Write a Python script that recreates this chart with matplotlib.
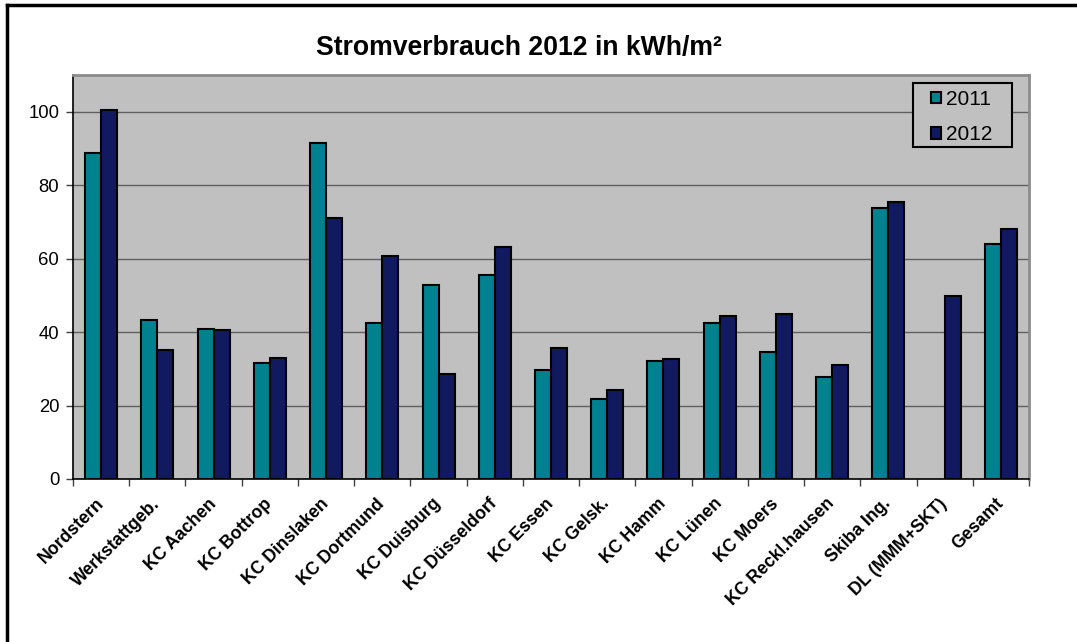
import numpy as np
import matplotlib.pyplot as plt
from matplotlib.lines import Line2D
from matplotlib.patches import Rectangle

plt.rcParams['font.family'] = ['Liberation Sans', 'DejaVu Sans']

# Data
standorte = ["Nordstern", "Werkstattgeb.", "KC Aachen", "KC Bottrop", "KC Dinslaken",
             "KC Dortmund", "KC Duisburg", "KC Düsseldorf", "KC Essen", "KC Gelsk.",
             "KC Hamm", "KC Lünen", "KC Moers", "KC Reckl.hausen", "Skiba Ing.",
             "DL (MMM+SKT)", "Gesamt"]
werte_2011 = [88.8, 43.3, 40.8, 31.5, 91.5, 42.4, 52.7, 55.6, 29.7, 21.8,
              32.2, 42.4, 34.5, 27.8, 73.8, np.nan, 64.0]
werte_2012 = [100.5, 35.1, 40.7, 33.0, 71.1, 60.6, 28.7, 63.1, 35.6, 24.1,
              32.7, 44.4, 45.0, 31.1, 75.5, 49.9, 68.1]
jahre = ["2011", "2012"]

col_2011 = "#00818F"
col_2012 = "#111A5E"

fig = plt.figure(figsize=(10.77, 6.42), dpi=100)
ax = fig.add_axes([0.0678, 0.2539, 0.8876, 0.6293])
ax.set_facecolor("#C0C0C0")

x = np.arange(len(standorte))
w = 0.285
ax.bar(x - w / 2, werte_2011, w, color=col_2011, edgecolor="black", linewidth=1.5,
       label=jahre[0], zorder=3)
ax.bar(x + w / 2, werte_2012, w, color=col_2012, edgecolor="black", linewidth=1.5,
       label=jahre[1], zorder=3)

ax.set_xlim(-0.5, len(standorte) - 0.5)
ax.set_ylim(0, 110)
ax.set_yticks([0, 20, 40, 60, 80, 100])
ax.yaxis.grid(True, color="#606060", linewidth=1, zorder=1)
ax.set_axisbelow(True)

ax.set_xticks(x)
ax.set_xticklabels(standorte, rotation=45, ha="right", va="center",
                   rotation_mode="anchor", fontsize=12.7, fontweight="bold")
ax.set_xticks(np.arange(len(standorte) + 1) - 0.5, minor=True)
ax.tick_params(axis="x", which="major", length=0, pad=16)
ax.tick_params(axis="x", which="minor", length=5, width=1, color="#404040")
ax.tick_params(axis="y", length=5, width=1, labelsize=13.3, pad=5, color="#404040")

for s in ["top", "right"]:
    ax.spines[s].set_color("#8C8C8C")
    ax.spines[s].set_linewidth(2)
for s in ["left", "bottom"]:
    ax.spines[s].set_color("black")
    ax.spines[s].set_linewidth(1.2)

# legend box drawn separately (wide side padding like the original)
ax.add_patch(Rectangle((0.8787, 0.8218), 0.1035, 0.1584, transform=ax.transAxes,
                       facecolor="#C0C0C0", edgecolor="black", linewidth=1.5,
                       zorder=4))
leg = ax.legend(loc="upper left", bbox_to_anchor=(0.8975, 0.963), fontsize=15,
                frameon=False, handlelength=0.5, handleheight=0.5,
                handletextpad=0.2, borderpad=0.0, labelspacing=0.78,
                borderaxespad=0.0)
leg.set_zorder(5)

fig.text(0.482, 0.925, "Stromverbrauch 2012 in kWh/m²", ha="center", va="center",
         fontsize=19.2, fontweight="bold")

# outer frame (only top and left visible)
fig.add_artist(Line2D([0.0065, 1.0], [0.9915, 0.9915], color="black", linewidth=2.5))
fig.add_artist(Line2D([0.0065, 0.0065], [0.0, 0.9915], color="black", linewidth=2.5))

fig.savefig("out.png", dpi=100)
